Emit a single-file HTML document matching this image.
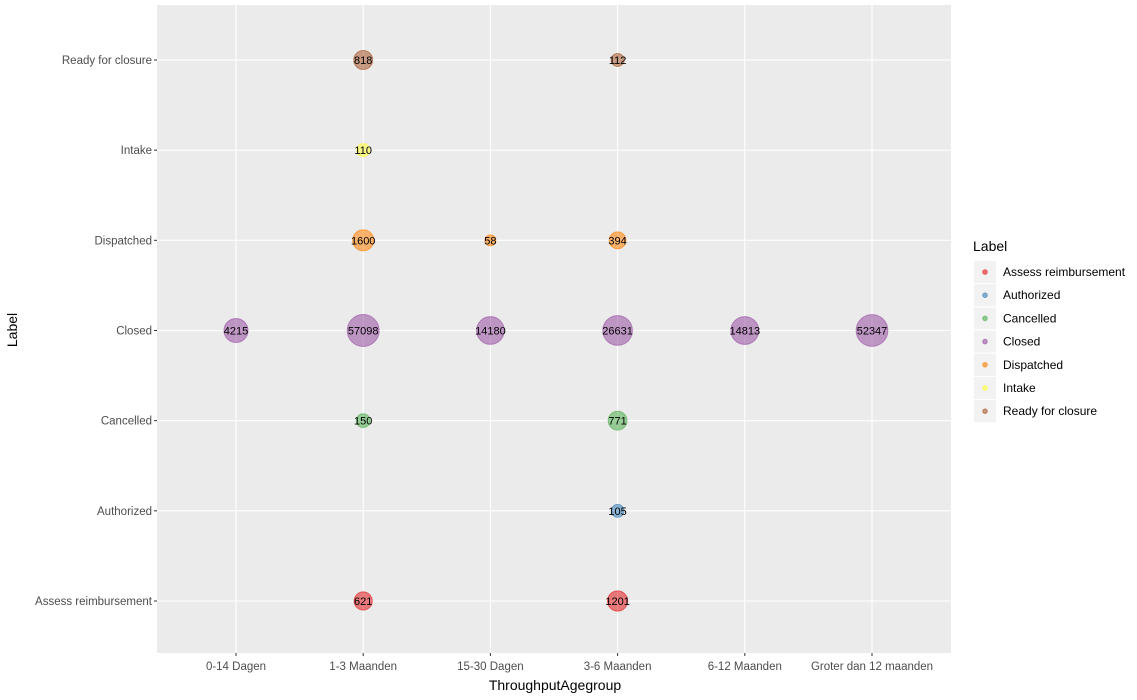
<!DOCTYPE html>
<html><head><meta charset="utf-8"><style>
body{margin:0;background:#fff;font-family:"Liberation Sans",Arial,sans-serif}
svg text{font-family:"Liberation Sans",Arial,sans-serif}
</style></head><body>
<svg id="c" width="1137" height="695" xmlns="http://www.w3.org/2000/svg">
<rect x="157" y="5" width="794" height="648" fill="#ebebeb"/>
<g id="grid"></g><g id="marks"></g><g id="axes"></g><g id="legend"></g>
<text x="555" y="690" font-size="14" text-anchor="middle" fill="#000">ThroughputAgegroup</text>
<text transform="translate(17,330) rotate(-90)" font-size="14" text-anchor="middle" fill="#000">Label</text>
</svg>
<script>
const xCats=["0-14 Dagen","1-3 Maanden","15-30 Dagen","3-6 Maanden","6-12 Maanden","Groter dan 12 maanden"];
const yCats=["Assess reimbursement","Authorized","Cancelled","Closed","Dispatched","Intake","Ready for closure"];
const colors=["#E41A1C","#377EB8","#4DAF4A","#984EA3","#FF7F00","#FFFF33","#A65628"];
const ptX=["1-3 Maanden","3-6 Maanden","3-6 Maanden","1-3 Maanden","3-6 Maanden","0-14 Dagen","1-3 Maanden","15-30 Dagen","3-6 Maanden","6-12 Maanden","Groter dan 12 maanden","1-3 Maanden","15-30 Dagen","3-6 Maanden","1-3 Maanden","1-3 Maanden","3-6 Maanden"];
const ptY=["Assess reimbursement","Assess reimbursement","Authorized","Cancelled","Cancelled","Closed","Closed","Closed","Closed","Closed","Closed","Dispatched","Dispatched","Dispatched","Intake","Ready for closure","Ready for closure"];
const ptV=[621,1201,105,150,771,4215,57098,14180,26631,14813,52347,1600,58,394,110,818,112];
const NS="http://www.w3.org/2000/svg";
const X0=157,X1=951,Y0=5,Y1=653;
const xs=c=>236+127.2*xCats.indexOf(c);
const ys=c=>601-90.17*yCats.indexOf(c);
const rs=v=>5.5+1.52*(Math.log(v)-Math.log(58));
function mk(t,a,p){const e=document.createElementNS(NS,t);for(const k in a)e.setAttribute(k,a[k]);p.appendChild(e);return e;}
const grid=document.getElementById('grid'),marks=document.getElementById('marks'),axes=document.getElementById('axes'),leg=document.getElementById('legend');
xCats.forEach(c=>{const x=xs(c);const l=mk('line',{x1:x,x2:x,y1:Y0,y2:Y1,stroke:'#fff','stroke-width':1.1},grid);
mk('line',{x1:x,x2:x,y1:Y1,y2:Y1+3,stroke:'#333'},axes);
const t=mk('text',{x:x,y:Y1+17,'font-size':11.5,'text-anchor':'middle',fill:'#4d4d4d'},axes);t.textContent=c;});
yCats.forEach(c=>{const y=ys(c);const l=mk('line',{x1:X0,x2:X1,y1:y,y2:y,stroke:'#fff','stroke-width':1.1},grid);
mk('line',{x1:X0-3,x2:X0,y1:y,y2:y,stroke:'#333'},axes);
const t=mk('text',{x:X0-5,y:y+4,'font-size':11.5,'text-anchor':'end',fill:'#4d4d4d'},axes);t.textContent=c;});
ptV.forEach((v,i)=>{const x=xs(ptX[i]),y=ys(ptY[i]);const col=colors[yCats.indexOf(ptY[i])];
const c=mk('circle',{cx:x,cy:y,r:rs(v),fill:col,'fill-opacity':0.55,stroke:col,'stroke-opacity':0.6},marks);
const t=mk('text',{x:x,y:y+4,'font-size':11,'text-anchor':'middle',fill:'#000'},marks);t.textContent=v;});
const lt=mk('text',{x:973,y:251,'font-size':14,fill:'#000'},leg);lt.textContent='Label';
yCats.forEach((c,i)=>{const y=261+i*23.2;const g=mk('g',{},leg);
mk('rect',{x:974,y:y,width:22,height:22,fill:'#f2f2f2'},g);
mk('circle',{cx:985,cy:y+11,r:2.3,fill:colors[i],'fill-opacity':0.6,stroke:colors[i],'stroke-opacity':0.6},g);
const t=mk('text',{x:1003,y:y+15,'font-size':12,fill:'#000'},g);t.textContent=c;});
</script>
</body></html>
